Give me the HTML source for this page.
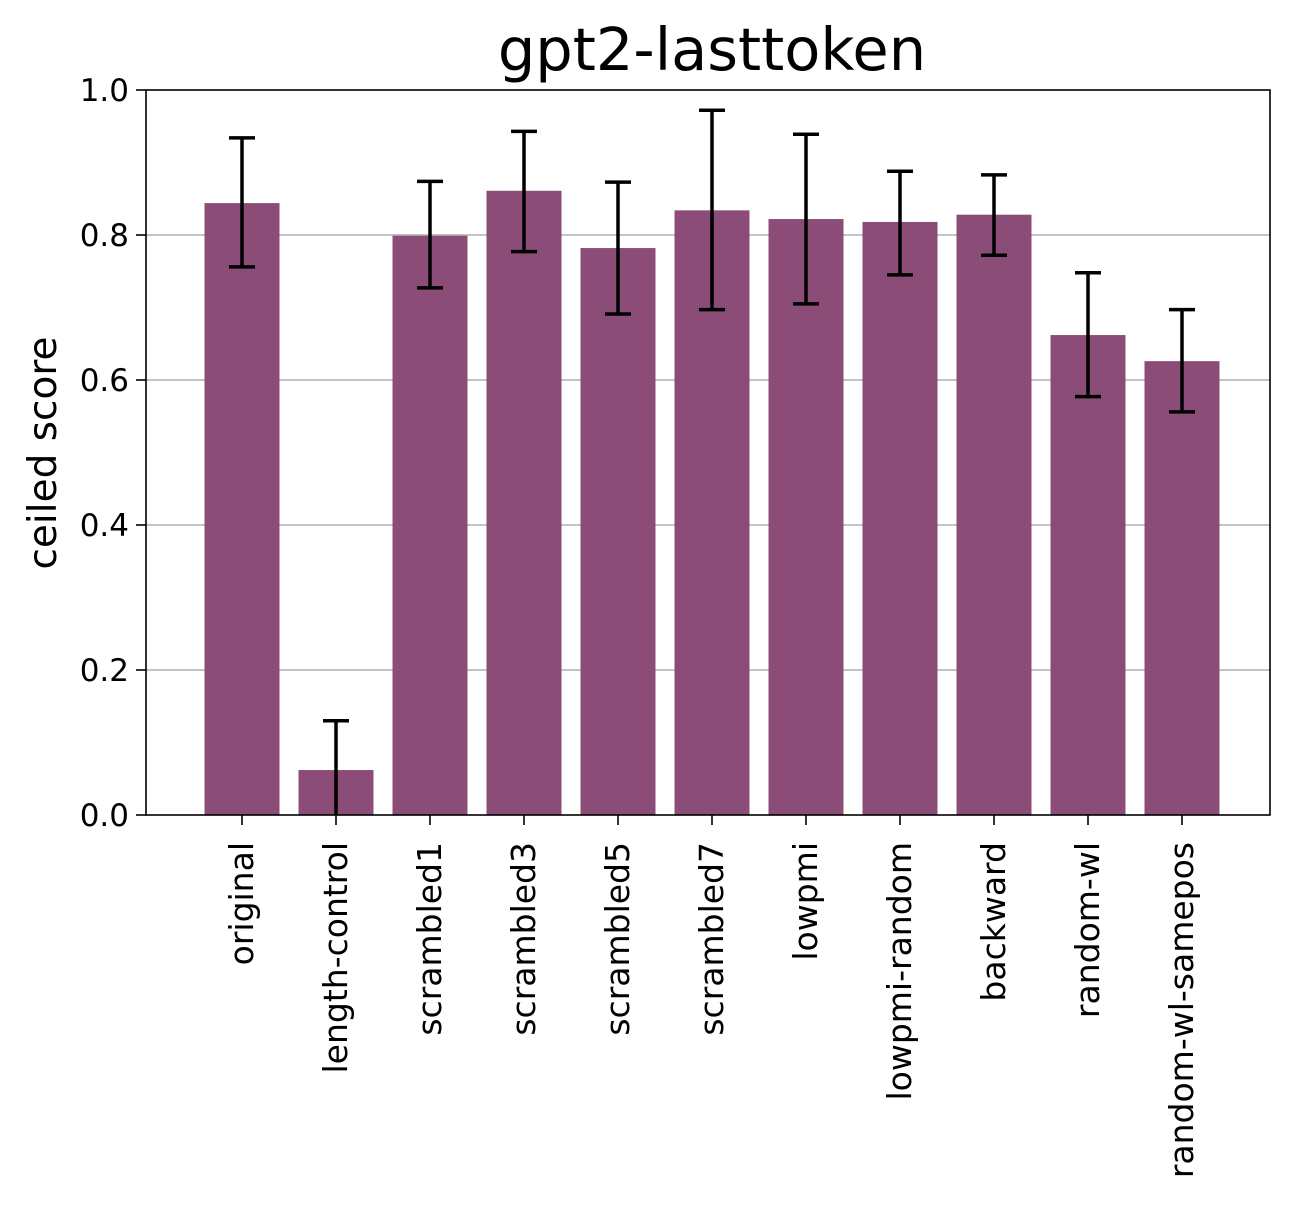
<!DOCTYPE html>
<html><head><meta charset="utf-8"><style>
body{margin:0;background:#fff;}
svg text{font-family:"DejaVu Sans","Liberation Sans",sans-serif;fill:#000;}
</style></head><body>
<svg id="chart" width="1294" height="1202" xmlns="http://www.w3.org/2000/svg">
<rect width="1294" height="1202" fill="#fff"/>
<text x="712" y="70" font-size="59" text-anchor="middle">gpt2-lasttoken</text>
<text transform="translate(56,453) rotate(-90)" font-size="39" text-anchor="middle">ceiled score</text>
<g id="grid"></g><g id="bars"></g><g id="errs"></g><g id="axes"></g>
</svg>
<script>
const categories=["original","length-control","scrambled1","scrambled3","scrambled5","scrambled7","lowpmi","lowpmi-random","backward","random-wl","random-wl-samepos"];
const values=[0.844,0.062,0.799,0.861,0.782,0.834,0.822,0.818,0.828,0.662,0.626];
const errHigh=[0.934,0.130,0.874,0.943,0.873,0.972,0.939,0.888,0.883,0.748,0.697];
const errLow=[0.756,-0.006,0.727,0.777,0.691,0.697,0.705,0.745,0.772,0.577,0.556];
const yTicks=[0,0.2,0.4,0.6,0.8,1.0];
const yTickLabels=["0.0","0.2","0.4","0.6","0.8","1.0"];
const NS="http://www.w3.org/2000/svg";
const L=146,R=1270,T=90,B=815;
const y=v=>B-(v-0)/(1-0)*(B-T);
const x=i=>242+i*94;
const bw=75;
function mk(tag,attrs,parent,txt){const e=document.createElementNS(NS,tag);for(const k in attrs)e.setAttribute(k,attrs[k]);if(txt!=null)e.textContent=txt;document.getElementById(parent).appendChild(e);return e;}
yTicks.forEach((t,i)=>{
 if(t>0&&t<1){const g=mk('line',{x1:L,x2:R,y1:y(t),y2:y(t),stroke:'#b0b0b0','stroke-width':1.6},'grid');
 
 }
 const tk=mk('line',{x1:L-10,x2:L,y1:y(t),y2:y(t),stroke:'#000','stroke-width':1.6},'axes');
 
 
 const lb=mk('text',{x:L-17,y:y(t)+11,'font-size':31,'text-anchor':'end'},'axes',yTickLabels[i]);
 
 
});
categories.forEach((c,i)=>{
 const cx=x(i);
 const r=mk('rect',{x:cx-bw/2,y:y(values[i]),width:bw,height:y(0)-y(values[i]),fill:'#8b4d77'},'bars');
 
 
 const lo=Math.max(errLow[i],0);
 const e=mk('path',{d:`M${cx},${y(errHigh[i])}V${y(lo)}M${cx-13},${y(errHigh[i])}H${cx+13}`+(errLow[i]>=0?`M${cx-13},${y(errLow[i])}H${cx+13}`:''),stroke:'#000','stroke-width':3.5,fill:'none'},'errs');
 
 
 const tk=mk('line',{x1:cx,x2:cx,y1:B,y2:B+10,stroke:'#000','stroke-width':1.6},'axes');
 
 
 const lb=mk('text',{transform:`translate(${cx+11},${B+27}) rotate(-90)`,'font-size':33,'text-anchor':'end'},'axes',c);
 
 
});
const f=mk('rect',{x:L,y:T,width:R-L,height:B-T,fill:'none',stroke:'#000','stroke-width':1.6},'axes');


</script>
</body></html>
